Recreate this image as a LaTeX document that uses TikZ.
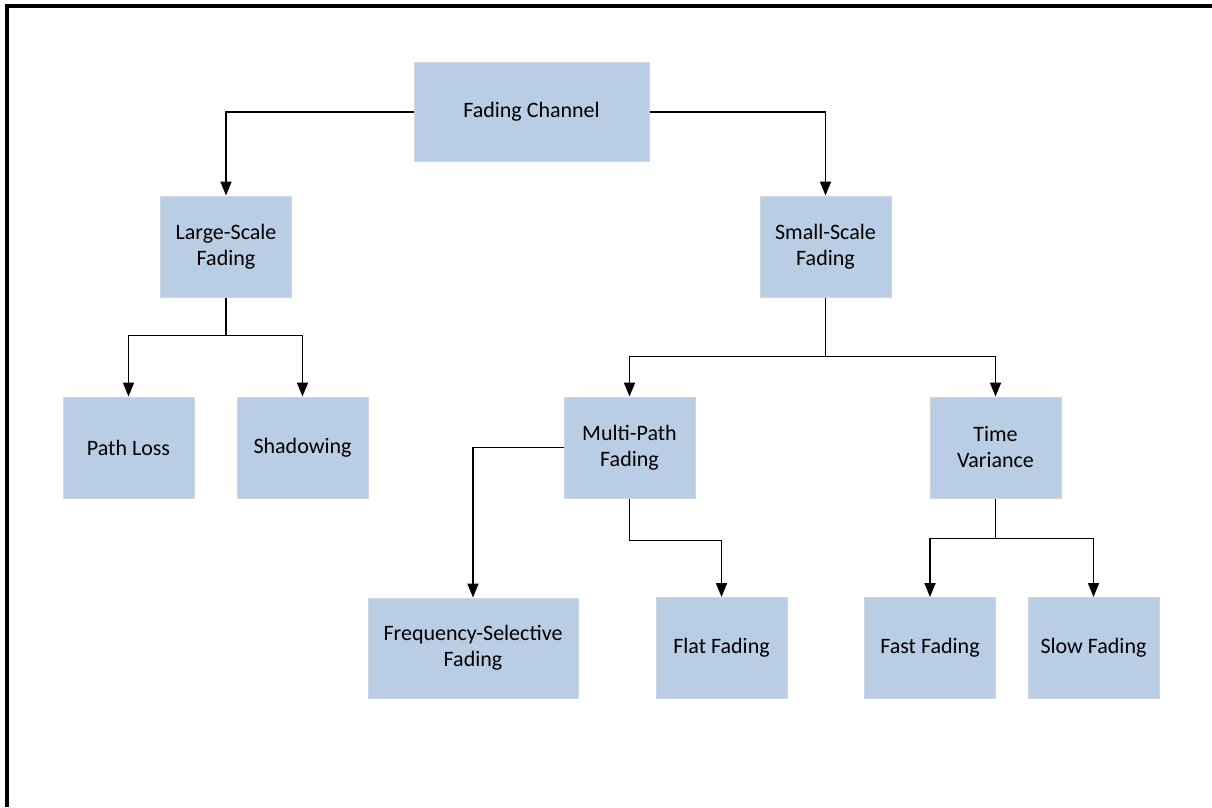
\documentclass[tikz,border=0pt]{standalone}
\usepackage{fontspec}
\setmainfont{Carlito}
\usetikzlibrary{arrows.meta}
\definecolor{boxfill}{RGB}{185,205,229}
\definecolor{boxedge}{RGB}{205,214,226}
\tikzset{
  blk/.style={rectangle, fill=boxfill, draw=boxedge, line width=1pt,
    minimum width=131pt, minimum height=101pt, inner sep=2pt, align=center,
    font=\fontsize{22}{26}\selectfont},
  arr/.style={line width=1.8pt, -{Triangle[length=14pt,width=11pt]}},
  link/.style={line width=1.8pt},
  frame/.style={line width=4.5pt, black}
}
\begin{document}
\begin{tikzpicture}[x=1pt,y=-1pt]
\useasboundingbox (0,0) rectangle (1212,807);
% frame along top and left edges
\draw[frame] (7,807) -- (7,6) -- (1212,6);

% blocks
\node[blk, minimum width=235pt, minimum height=99pt] (fc) at (531.5,112) {Fading Channel};
\node[blk] (ls) at (226,246.5) {Large-Scale\\Fading};
\node[blk] (ss) at (825.5,246.5) {Small-Scale\\Fading};
\node[blk] (pl) at (128.5,447.5) {Path Loss};
\node[blk] (sh) at (302.5,447.5) {Shadowing};
\node[blk] (mp) at (629.5,447.5) {Multi-Path\\Fading};
\node[blk] (tv) at (995.5,447.5) {Time\\Variance};
\node[blk, minimum width=210pt, minimum height=100pt] (fs) at (473,648) {Frequency-Selective\\Fading};
\node[blk] (ff) at (721.5,648) {Flat Fading};
\node[blk] (fa) at (930,648) {Fast Fading};
\node[blk] (sl) at (1093.5,648) {Slow Fading};

% connectors
\draw[arr] (fc.west) -| (ls.north);
\draw[arr] (fc.east) -| (ss.north);

\draw[link] (ls.south) -- ++(0,38) coordinate (lsj);
\draw[arr] (lsj) -| (pl.north);
\draw[arr] (lsj) -| (sh.north);

\draw[link] (ss.south) -- ++(0,59) coordinate (ssj);
\draw[arr] (ssj) -| (mp.north);
\draw[arr] (ssj) -| (tv.north);

\draw[arr] (mp.west) -| (fs.north);
\draw[link] (mp.south) -- ++(0,42) coordinate (mpj);
\draw[arr] (mpj) -| (ff.north);

\draw[link] (tv.south) -- ++(0,40) coordinate (tvj);
\draw[arr] (tvj) -| (fa.north);
\draw[arr] (tvj) -| (sl.north);
\end{tikzpicture}
\end{document}
